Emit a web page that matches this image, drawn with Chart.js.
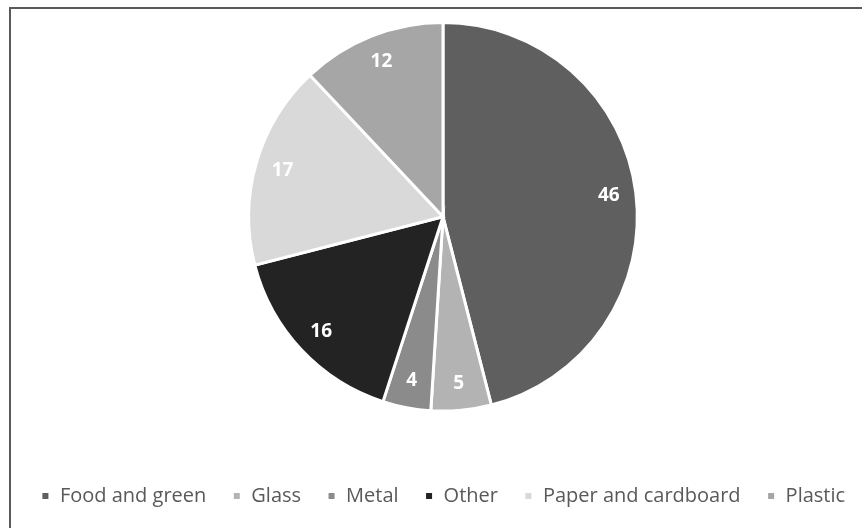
<!DOCTYPE html>
<html>
<head>
<meta charset="utf-8">
<script src="https://cdn.jsdelivr.net/npm/chart.js@4.4.1/dist/chart.umd.min.js"></script>
<style>
  html, body { margin: 0; padding: 0; background: #fff; overflow: hidden; }
  #wrap { position: relative; width: 862px; height: 528px; overflow: hidden; }
  #frame {
    position: absolute; left: 9px; top: 7px; width: 900px; height: 600px;
    border: 2px solid #5a5a5a; box-sizing: border-box;
  }
  #chart { position: absolute; left: 12px; top: 0; }
</style>
</head>
<body>
<div id="wrap">
  <div id="frame"></div>
  <canvas id="chart" width="862" height="528"></canvas>
</div>
<script>
'use strict';

// Waste composition (%)
const categories = ['Food and green', 'Glass', 'Metal', 'Other', 'Paper and cardboard', 'Plastic'];
const shares     = [46, 5, 4, 16, 17, 12];
const colours    = ['#5f5f5f', '#b3b3b3', '#8b8b8b', '#232323', '#d9d9d9', '#a6a6a6'];

const FONT = "'Open Sans', 'Noto Sans', sans-serif";

// Draws the value inside each slice, near the rim
const sliceLabels = {
  id: 'sliceLabels',
  afterDatasetsDraw(chart) {
    const ctx  = chart.ctx;
    const meta = chart.getDatasetMeta(0);
    ctx.save();
    ctx.fillStyle    = '#ffffff';
    ctx.font         = 'bold 19px ' + FONT;
    ctx.textAlign    = 'center';
    ctx.textBaseline = 'middle';
    meta.data.forEach((arc, i) => {
      const p   = arc.getProps(['x', 'y', 'startAngle', 'endAngle', 'outerRadius']);
      const mid = (p.startAngle + p.endAngle) / 2;
      const r   = p.outerRadius * 0.86;
      ctx.fillText(String(shares[i]), p.x + Math.cos(mid) * r, p.y + Math.sin(mid) * r);
    });
    ctx.restore();
  },
};

new Chart(document.getElementById('chart'), {
  type: 'pie',
  data: {
    labels: categories,
    datasets: [{
      data           : shares,
      backgroundColor: colours,
      borderColor    : '#ffffff',
      borderWidth    : 3,
      borderJoinStyle: 'miter',
    }],
  },
  options: {
    responsive: false,
    animation : false,
    layout: { padding: { top: 21, left: 0, right: 0, bottom: 12 } },
    plugins: {
      legend: {
        position: 'bottom',
        title: { display: true, text: '', padding: { top: 33, bottom: 0 } },
        labels: {
          usePointStyle: true,
          pointStyle   : 'rect',
          boxWidth     : 9,
          boxHeight    : 9,
          padding      : 26,
          color        : '#595959',
          font         : { size: 20, family: FONT },
        },
      },
      tooltip: { enabled: false },
    },
  },
  plugins: [sliceLabels],
});
</script>
</body>
</html>
